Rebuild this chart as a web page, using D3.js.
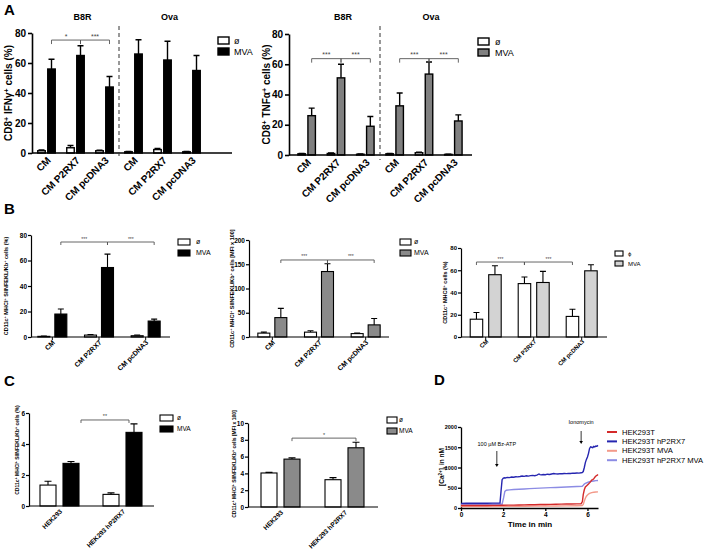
<!DOCTYPE html>
<html><head><meta charset="utf-8">
<script src="https://cdn.jsdelivr.net/npm/d3@7"></script>
<style>body{margin:0;background:#fff}svg{display:block;font-family:"Liberation Sans",Arial,sans-serif}</style>
</head><body><svg id="c" width="708" height="555"></svg>
<script>
// ---------- DATA ----------
const catsA = ["CM","CM P2RX7","CM pcDNA3","CM","CM P2RX7","CM pcDNA3"];
const groupTitlesA = ["B8R","Ova"];
const ifnNone = [1.5,3.5,1.5,0.8,2.3,0.8];
const ifnNoneErr = [0.5,1.5,0.4,0.3,0.8,0.3];
const ifnMVA = [56,65,44,66,62,55];
const ifnMVAErr = [6.5,6.5,7,9.5,12.5,10];
const tnfNone = [0.8,1,0.5,0.8,1.5,0.4];
const tnfNoneErr = [0.3,0.3,0.2,0.3,0.3,0.2];
const tnfMVA = [26,51,19,32.5,53.5,22.5];
const tnfMVAErr = [5,9,6.5,8.5,8,4];

const catsB = ["CM","CM P2RX7","CM pcDNA3"];
const kbPctNone = [0.5,1.5,1];
const kbPctNoneErr = [0.3,0.5,0.5];
const kbPctMVA = [18,54.5,12.5];
const kbPctMVAErr = [4,10.5,1.5];
const kbMfiNone = [8,10,7];
const kbMfiNoneErr = [2,3,1];
const kbMfiMVA = [40,135,25];
const kbMfiMVAErr = [19,16,13];
const mhc2None = [16,48,18.5];
const mhc2NoneErr = [6,6,6.5];
const mhc2MVA = [56,49,59.5];
const mhc2MVAErr = [8,10,5.5];

const catsC = ["HEK293","HEK293 hP2RX7"];
const hekPctNone = [1.35,0.75];
const hekPctNoneErr = [0.25,0.1];
const hekPctMVA = [2.75,4.75];
const hekPctMVAErr = [0.12,0.55];
const hekMfiNone = [4.05,3.25];
const hekMfiNoneErr = [0.07,0.25];
const hekMfiMVA = [5.7,7.05];
const hekMfiMVAErr = [0.15,0.65];

const legendLabels = ["ø","MVA"];
const legendLabelsB3 = ["ϕ","MVA"];

// Panel D: calcium traces [time (min), nM]
const caNames = ["HEK293T","HEK293T hP2RX7","HEK293T MVA","HEK293T hP2RX7 MVA"];
const caHEK = [[0,60],[0.25,62],[0.5,60],[0.75,63],[1,64],[1.25,62],[1.5,66],[1.75,65],[2,68],[2.25,70],[2.5,72],[2.75,75],[3,76],[3.25,80],[3.5,82],[3.75,85],[4,88],[4.25,90],[4.5,92],[4.75,95],[5,98],[5.25,100],[5.5,103],[5.7,106],[5.76,160],[5.8,330],[5.85,450],[5.9,520],[5.95,545],[6,570],[6.05,595],[6.1,620],[6.15,650],[6.2,690],[6.25,700],[6.3,720],[6.35,760],[6.4,790],[6.45,805],[6.5,830]];
const caP2 = [[0,115],[0.25,118],[0.5,116],[0.75,118],[1,120],[1.25,118],[1.5,121],[1.75,120],[1.85,122],[1.9,420],[1.95,700],[2,735],[2.05,745],[2.1,740],[2.2,755],[2.3,750],[2.4,765],[2.5,760],[2.6,772],[2.7,768],[2.8,778],[2.9,790],[3,782],[3.1,795],[3.2,788],[3.3,800],[3.4,806],[3.5,798],[3.6,812],[3.7,840],[3.75,825],[3.8,818],[3.9,826],[4,822],[4.1,835],[4.2,828],[4.3,840],[4.4,850],[4.5,842],[4.6,838],[4.7,848],[4.8,845],[4.9,852],[5,848],[5.1,856],[5.2,852],[5.3,860],[5.4,858],[5.5,865],[5.6,862],[5.7,870],[5.75,872],[5.8,900],[5.85,1000],[5.9,1120],[5.95,1200],[6,1260],[6.05,1350],[6.1,1470],[6.15,1510],[6.2,1500],[6.25,1490],[6.3,1520],[6.35,1510],[6.4,1530],[6.45,1525],[6.5,1545]];
const caMVA = [[0,35],[0.5,36],[1,38],[1.5,37],[2,40],[2.5,42],[3,44],[3.5,46],[4,48],[4.5,50],[5,52],[5.5,55],[5.75,58],[5.8,90],[5.85,170],[5.9,240],[5.95,290],[6,320],[6.05,345],[6.1,360],[6.2,380],[6.3,390],[6.4,395],[6.5,398]];
const caP2MVA = [[0,90],[0.5,90],[1,92],[1.5,91],[1.95,93],[2.02,250],[2.08,410],[2.15,440],[2.3,448],[2.5,455],[2.75,462],[3,470],[3.25,478],[3.5,484],[3.75,490],[4,496],[4.25,502],[4.5,508],[4.75,514],[5,520],[5.25,526],[5.5,532],[5.75,538],[5.8,560],[5.85,590],[5.9,610],[6,630],[6.1,648],[6.2,660],[6.3,668],[6.4,675],[6.5,680]];
const caColors = ["#d42a2a","#2626b0","#f39a8a","#8c8ce4"];
const caEvents = [[1.7,"100 µM Bz-ATP"],[5.7,"Ionomycin"]];
const caXTicks = [0,2,4,6];
const caYTicks = [0,500,1000,1500,2000];

// ---------- DRAWING ----------
const svg = d3.select("#c");
const FF = '"Liberation Sans",Arial,sans-serif';

function rich(sel, str){
  str.split(/(\^\{[^}]*\}|_\{[^}]*\})/).filter(s=>s.length).forEach(p=>{
    if (p.startsWith("^{")) sel.append("tspan").attr("baseline-shift","super").attr("font-size","70%").text(p.slice(2,-1));
    else if (p.startsWith("_{")) sel.append("tspan").attr("baseline-shift","sub").attr("font-size","70%").text(p.slice(2,-1));
    else sel.append("tspan").text(p);
  });
}

function panelLabel(t,x,y){
  svg.append("text").attr("x",x).attr("y",y).attr("font-size",15).attr("font-weight","bold").text(t);
}

function barChart(o){
  const g = svg.append("g");
  const y = d3.scaleLinear().domain([0,o.yMax]).range([o.y0,o.y1]);
  const x = d3.scaleBand().domain(d3.range(o.cats.length)).range(o.xr);
  const xs = d3.scaleBand().domain([0,1]).range([-o.sub/2,o.sub/2]).paddingInner(o.subPad);
  const bw = xs.bandwidth();
  const cx = i => x(i)+x.bandwidth()/2;
  const bx = (i,s) => cx(i)+xs(s);
  const rows = [];
  o.cats.forEach((c,i)=>{
    rows.push({i,s:0,v:o.none[i],e:o.noneErr[i]});
    rows.push({i,s:1,v:o.mva[i],e:o.mvaErr[i]});
  });
  g.selectAll("path.eb").data(rows).join("path").attr("class","eb")
    .attr("d",d=>{const xm=bx(d.i,d.s)+bw/2, yt=y(d.v+d.e);return `M${xm},${y(d.v)}V${yt}M${xm-o.cap},${yt}H${xm+o.cap}`;})
    .attr("stroke","#000").attr("stroke-width",o.sw).attr("fill","none");
  g.selectAll("rect.bar").data(rows).join("rect").attr("class","bar")
    .attr("x",d=>bx(d.i,d.s)).attr("y",d=>y(d.v)).attr("width",bw)
    .attr("height",d=>Math.max(0.5,o.y0-y(d.v)))
    .attr("fill",d=>d.s?o.color:"#fff").attr("stroke","#000").attr("stroke-width",o.sw);
  const ya = g.append("g").attr("transform",`translate(${o.x0},0)`)
    .call(d3.axisLeft(y).tickValues(o.yTicks).tickFormat(d3.format("d")).tickSize(o.tk).tickSizeOuter(0).tickPadding(o.tp||2));
  ya.attr("font-family",FF);
  ya.selectAll("text").attr("font-size",o.tf).attr("font-weight","bold").attr("fill","#000");
  ya.selectAll("line,path").attr("stroke","#000").attr("stroke-width",o.aw);
  g.append("line").attr("x1",o.x0).attr("x2",o.xEnd).attr("y1",o.y0).attr("y2",o.y0)
    .attr("stroke","#000").attr("stroke-width",o.aw);
  if (o.xTicks){
    g.selectAll("line.xt").data(o.cats).join("line").attr("class","xt")
      .attr("x1",(d,i)=>cx(i)).attr("x2",(d,i)=>cx(i)).attr("y1",o.y0).attr("y2",o.y0+o.tk)
      .attr("stroke","#000").attr("stroke-width",o.aw*0.8);
  }
  g.selectAll("text.xl").data(o.cats).join("text").attr("class","xl")
    .attr("transform",(d,i)=>`translate(${cx(i)+o.xlo[0]},${o.y0+o.xlo[1]}) rotate(-45)`)
    .attr("text-anchor","end").attr("font-size",o.xf).attr("font-weight","bold").text(d=>d);
  const yl = g.append("text").attr("transform",`translate(${o.ylx},${o.yly!==undefined?o.yly:(o.y0+o.y1)/2}) rotate(-90)`)
    .attr("text-anchor","middle").attr("font-size",o.ylf).attr("font-weight","bold");
  rich(yl,o.yLabel);
  const L = o.legend;
  L.labels.forEach((t,k)=>{
    g.append("rect").attr("x",L.x).attr("y",L.y+k*L.dy).attr("width",L.w).attr("height",L.h)
      .attr("fill",k?o.color:"#fff").attr("stroke","#000").attr("stroke-width",o.sw);
    g.append("text").attr("x",L.tx).attr("y",L.y+k*L.dy+L.h/2).attr("dy","0.35em")
      .attr("font-size",L.f).text(t);
  });
  const yb = y(o.brY);
  o.brackets.forEach(b=>{
    const xa = bx(b.a[0],b.a[1])+bw/2+(b.ao||0), xb = bx(b.b[0],b.b[1])+bw/2+(b.bo||0);
    g.append("path").attr("d",`M${xa},${yb+o.brD}V${yb}H${xb}V${yb+o.brD}`)
      .attr("fill","none").attr("stroke","#555").attr("stroke-width",0.9);
    g.append("text").attr("x",(xa+xb)/2).attr("y",yb-1.5).attr("text-anchor","middle")
      .attr("font-size",o.brF).attr("fill","#444").text(b.t);
  });
  if (o.titles){
    o.titles.forEach((t,k)=>{
      g.append("text").attr("x",cx(k*3+1)+7).attr("y",o.titleY).attr("text-anchor","middle")
        .attr("font-size",9).attr("font-weight","bold").text(t);
    });
    g.append("line").attr("x1",x(3)).attr("x2",x(3)).attr("y1",o.titleY+6).attr("y2",o.y0+5)
      .attr("stroke","#333").attr("stroke-width",1).attr("stroke-dasharray","4,3");
  }
}

// Panel A
panelLabel("A",4,15);
const baseA = {cats:catsA, yMax:80, yTicks:[0,20,40,60,80], sub:17.5, subPad:0.25, cap:3,
  sw:1.4, aw:1.6, tk:4, tf:10, xf:10, ylf:10, xlo:[5,8], brD:4, brF:7, titles:groupTitlesA, titleY:20};
barChart(Object.assign({}, baseA, {none:ifnNone, noneErr:ifnNoneErr, mva:ifnMVA, mvaErr:ifnMVAErr, color:"#000",
  x0:32, xEnd:232, y0:153, y1:33, xr:[32,206], yLabel:"CD8^{+} IFNγ^{+} cells (%)", ylx:12,
  legend:{x:218,y:37,dy:11,w:11,h:7,f:9,tx:234,labels:legendLabels}, brY:75.3,
  brackets:[{a:[0,1],b:[1,1],t:"*"},{a:[1,1],b:[2,1],t:"***"}]}));
barChart(Object.assign({}, baseA, {none:tnfNone, noneErr:tnfNoneErr, mva:tnfMVA, mvaErr:tnfMVAErr, color:"#808080",
  x0:289, xEnd:472, y0:155, y1:34, xr:[292,468], yLabel:"CD8^{+} TNFα^{+} cells (%)", ylx:270,
  legend:{x:478,y:38,dy:11,w:11,h:7,f:9,tx:495,labels:legendLabels}, brY:63.7,
  brackets:[{a:[0,1],b:[1,1],t:"***"},{a:[1,1],b:[2,1],t:"***"},{a:[3,1],b:[4,1],t:"***"},{a:[4,1],b:[5,1],t:"***"}]}));

// Panel B
panelLabel("B",4,214);
const baseB = {cats:catsB, sub:29, subPad:0.294, cap:3, sw:1.1, aw:1.2, tk:3, tf:6.5, xf:7, ylf:5.5,
  xlo:[3,6], brD:3, brF:5, xTicks:true, tp:1};
barChart(Object.assign({}, baseB, {none:kbPctNone, noneErr:kbPctNoneErr, mva:kbPctMVA, mvaErr:kbPctMVAErr, color:"#000",
  yMax:80, yTicks:[0,20,40,60,80], x0:31, xEnd:170, y0:337, y1:235, xr:[29,169],
  yLabel:"CD11c^{+} MHCI^{+} SIINFEKL/Kb^{+} cells (%)", ylx:8,
  legend:{x:178,y:239,dy:11,w:12,h:6,f:7,tx:196,labels:legendLabels}, brY:74.5,
  brackets:[{a:[0,1],b:[1,1],t:"***"},{a:[1,1],b:[2,1],t:"***"}]}));
barChart(Object.assign({}, baseB, {none:kbMfiNone, noneErr:kbMfiNoneErr, mva:kbMfiMVA, mvaErr:kbMfiMVAErr, color:"#8a8a8a",
  yMax:200, yTicks:[0,50,100,150,200], x0:249, xEnd:389, y0:337, y1:240, xr:[249,389],
  yLabel:"CD11c^{+} MHCI^{+} SIINFEKL/Kb^{+} cells [MFI x 100]", ylx:234,
  legend:{x:400,y:239,dy:11,w:11,h:6,f:7,tx:414,labels:legendLabels}, brY:158.8,
  brackets:[{a:[0,1],b:[1,1],t:"***"},{a:[1,1],b:[2,1],t:"***"}]}));
barChart(Object.assign({}, baseB, {none:mhc2None, noneErr:mhc2NoneErr, mva:mhc2MVA, mvaErr:mhc2MVAErr, color:"#d3d3d3",
  sub:31, subPad:0.324, tf:6, xf:6, xlo:[3,5],
  yMax:80, yTicks:[0,20,40,60,80], x0:461, xEnd:607, y0:337, y1:248, xr:[461.7,605.7],
  yLabel:"CD11c^{+} MHCII^{+} cells (%)", ylx:447,
  legend:{x:615,y:251,dy:10,w:8,h:5,f:6,tx:628,labels:legendLabelsB3}, brY:67.4,
  brackets:[{a:[0,0],b:[1,0],t:"***"},{a:[1,0],b:[2,0],t:"***"}]}));

// Panel C
panelLabel("C",4,386);
const baseC = {cats:catsC, sub:39, subPad:0.304, cap:3.5, sw:1.1, aw:1.2, tk:3, tf:6.5, xf:6.5, ylf:5,
  xlo:[3,6], brD:3, brF:5.5, tp:1};
barChart(Object.assign({}, baseC, {none:hekPctNone, noneErr:hekPctNoneErr, mva:hekPctMVA, mvaErr:hekPctMVAErr, color:"#000",
  yMax:6, yTicks:[0,2,4,6], x0:29, xEnd:154, y0:506, y1:413, xr:[28,154],
  yLabel:"CD11c^{+} MHCI^{+} SIINFEKL/Kb^{+} cells (%)", ylx:19, yly:450,
  legend:{x:160,y:415,dy:11,w:13,h:6,f:6.5,tx:177,labels:legendLabels}, brY:5.55,
  brackets:[{a:[0,1],b:[1,1],t:"**",ao:10,bo:-5}]}));
barChart(Object.assign({}, baseC, {none:hekMfiNone, noneErr:hekMfiNoneErr, mva:hekMfiMVA, mvaErr:hekMfiMVAErr, color:"#8a8a8a",
  yMax:10, yTicks:[0,2,4,6,8,10], x0:248, xEnd:378, y0:507, y1:423, xr:[248.5,376.5],
  yLabel:"CD11c^{+} MHCI^{+} SIINFEKL/Kb^{+} cells [MFI x 100]", ylx:236, yly:464,
  legend:{x:387,y:417,dy:11,w:10,h:6,f:6.5,tx:399,labels:legendLabels}, brY:8.2,
  brackets:[{a:[0,1],b:[1,1],t:"*"}]}));

// Panel D
panelLabel("D",434,385);
(function(){
  const g = svg.append("g");
  const x = d3.scaleLinear().domain([0,6.5]).range([461,598]);
  const y = d3.scaleLinear().domain([0,2000]).range([508,427]);
  const xa = g.append("g").attr("transform","translate(0,508)")
    .call(d3.axisBottom(x).tickValues(caXTicks).tickFormat(d3.format("d")).tickSize(3).tickSizeOuter(0).tickPadding(1));
  const ya = g.append("g").attr("transform","translate(461,0)")
    .call(d3.axisLeft(y).tickValues(caYTicks).tickFormat(d3.format("d")).tickSize(3).tickSizeOuter(0).tickPadding(1));
  [xa,ya].forEach(a=>{a.attr("font-family",FF);
    a.selectAll("line,path").attr("stroke","#000").attr("stroke-width",1.3);});
  xa.selectAll("text").attr("font-size",6.5).attr("font-weight","bold").attr("fill","#000");
  ya.selectAll("text").attr("font-size",5.5).attr("font-weight","bold").attr("fill","#000");
  const line = d3.line().x(d=>x(d[0])).y(d=>y(d[1]));
  const series = [caHEK,caP2,caMVA,caP2MVA];
  [2,3,0,1].forEach(k=>{
    g.append("path").datum(series[k]).attr("d",line).attr("fill","none")
      .attr("stroke",caColors[k]).attr("stroke-width",1.4);
  });
  g.append("text").attr("x",530).attr("y",527).attr("text-anchor","middle")
    .attr("font-size",8).attr("font-weight","bold").text("Time in min");
  const yl = g.append("text").attr("transform","translate(444,467) rotate(-90)")
    .attr("text-anchor","middle").attr("font-size",6.5).attr("font-weight","bold");
  rich(yl,"[Ca^{2+}]_{i} in nM");
  caNames.forEach((n,k)=>{
    const yy = 432 + k*9.4;
    g.append("line").attr("x1",607).attr("x2",617).attr("y1",yy).attr("y2",yy)
      .attr("stroke",caColors[k]).attr("stroke-width",2);
    g.append("text").attr("x",622).attr("y",yy).attr("dy","0.35em").attr("font-size",7.6).text(n);
  });
  const ann = [{ty:446,a0:451,a1:467},{ty:424,a0:431,a1:444}];
  caEvents.forEach((e,k)=>{
    const xx = x(e[0]), A = ann[k];
    g.append("text").attr("x",xx).attr("y",A.ty).attr("text-anchor","middle").attr("font-size",5.5).text(e[1]);
    g.append("line").attr("x1",xx).attr("x2",xx).attr("y1",A.a0).attr("y2",A.a1-2).attr("stroke","#000").attr("stroke-width",0.8);
    g.append("path").attr("d",`M${xx-1.8},${A.a1-3}L${xx},${A.a1}L${xx+1.8},${A.a1-3}Z`).attr("fill","#000");
  });
})();
</script></body></html>
